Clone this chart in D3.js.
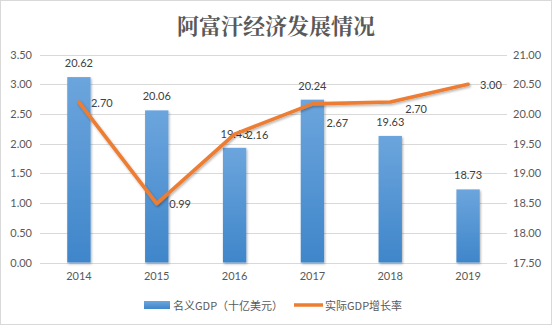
<!DOCTYPE html>
<html><head><meta charset="utf-8">
<script src="https://cdn.jsdelivr.net/npm/d3@7"></script>
<style>body{margin:0;background:#fff}svg{display:block}</style>
</head><body>
<script>
const years = ["2014","2015","2016","2017","2018","2019"];
const gdp = [20.62, 20.06, 19.43, 20.24, 19.63, 18.73];
const growth = [2.70, 0.99, 2.16, 2.67, 2.70, 3.00];
const leftTicks = [0, 0.5, 1, 1.5, 2, 2.5, 3, 3.5];
const rightTicks = [17.5, 18, 18.5, 19, 19.5, 20, 20.5, 21];
const titleText = "阿富汗经济发展情况";
const legendLabels = ["名义GDP（十亿美元）", "实际GDP增长率"];

const W = 552, H = 326;
const numFont = "Lato, 'Liberation Sans', sans-serif";
const cjkFont = "'Noto Sans CJK SC', sans-serif";
// manual nudges of the growth labels (as in the source chart)
const growthLabelNudge = [[12, 0], [12.5, 0], [12, 0], [14, 19], [15, 6], [12, 0]];

const svg = d3.select("body").append("svg").attr("width", W).attr("height", H);
const defs = svg.append("defs");
const grad = defs.append("linearGradient").attr("id", "barGrad").attr("x1", 0).attr("y1", 0).attr("x2", 0).attr("y2", 1);
grad.append("stop").attr("offset", "0%").attr("stop-color", "#6CA5DD");
grad.append("stop").attr("offset", "100%").attr("stop-color", "#3F86CA");
const sh = defs.append("filter").attr("id", "shadow").attr("x", "-20%").attr("y", "-20%").attr("width", "140%").attr("height", "140%");
sh.append("feDropShadow").attr("dx", 1).attr("dy", 1.5).attr("stdDeviation", 1.2).attr("flood-color", "#000").attr("flood-opacity", 0.3);

svg.append("rect").attr("x", 0.5).attr("y", 0.5).attr("width", W - 1).attr("height", 324)
  .attr("fill", "#fff").attr("stroke", "#d9d9d9");

const m = {l: 40, r: 507, t: 54.5, b: 262.5};
const x = d3.scaleBand().domain(years).range([m.l, m.r]);
const yL = d3.scaleLinear().domain([0, 3.5]).range([m.b, m.t]);
const yR = d3.scaleLinear().domain([17.5, 21]).range([m.b, m.t]);
const cx = d => x(d) + x.bandwidth() / 2;
const bw = x.bandwidth() * 0.3;

// title
svg.append("text").attr("x", 276).attr("y", 24).attr("text-anchor", "middle")
  .attr("dominant-baseline", "central").attr("font-family", "'Noto Serif CJK SC', " + cjkFont)
  .attr("font-size", 22).attr("font-weight", "bold").attr("fill", "#595959").text(titleText);

// gridlines
svg.append("g").selectAll("line").data(leftTicks).join("line")
  .attr("x1", m.l).attr("x2", m.r)
  .attr("y1", d => Math.round(yL(d)) + 0.5).attr("y2", d => Math.round(yL(d)) + 0.5)
  .attr("stroke", "#d9d9d9").attr("stroke-width", 1);

// axes
const axL = svg.append("g").attr("transform", `translate(${m.l},0)`)
  .call(d3.axisLeft(yL).tickValues(leftTicks).tickFormat(d3.format(".2f")).tickSize(0).tickPadding(8));
const axR = svg.append("g").attr("transform", `translate(${m.r},0)`)
  .call(d3.axisRight(yR).tickValues(rightTicks).tickFormat(d3.format(".2f")).tickSize(0).tickPadding(6));
const axB = svg.append("g").attr("transform", `translate(0,${m.b})`)
  .call(d3.axisBottom(x).tickSize(0).tickPadding(10));
[axL, axR, axB].forEach(a => {
  a.select(".domain").remove();
  a.selectAll("text").attr("font-family", numFont).attr("font-size", 11).attr("fill", "#595959");
});

// bars
svg.append("g").selectAll("rect").data(years).join("rect")
  .attr("x", (d) => cx(d) - bw / 2)
  .attr("width", bw)
  .attr("y", (d, i) => yR(gdp[i]))
  .attr("height", (d, i) => m.b - yR(gdp[i]))
  .attr("fill", "url(#barGrad)").attr("filter", "url(#shadow)");

// bar labels
svg.append("g").selectAll("text").data(years).join("text")
  .attr("x", d => cx(d)).attr("y", (d, i) => yR(gdp[i]) - 10)
  .attr("text-anchor", "middle").attr("font-family", numFont).attr("font-size", 11)
  .attr("fill", "#404040").text((d, i) => gdp[i].toFixed(2));

// line
const line = d3.line().x(d => cx(d)).y((d, i) => yL(growth[i]));
svg.append("path").datum(years).attr("d", line).attr("fill", "none")
  .attr("stroke", "#ED7D31").attr("stroke-width", 3.6)
  .attr("stroke-linejoin", "round").attr("stroke-linecap", "round").attr("filter", "url(#shadow)");

// line labels
svg.append("g").selectAll("text").data(years).join("text")
  .attr("x", (d, i) => cx(d) + growthLabelNudge[i][0])
  .attr("y", (d, i) => yL(growth[i]) + growthLabelNudge[i][1])
  .attr("dominant-baseline", "central").attr("font-family", numFont).attr("font-size", 11)
  .attr("fill", "#404040").text((d, i) => growth[i].toFixed(2));

// legend
const lg = svg.append("g");
lg.append("rect").attr("x", 144).attr("y", 301).attr("width", 26).attr("height", 8).attr("fill", "url(#barGrad)");
lg.append("text").attr("x", 173).attr("y", 305).attr("dominant-baseline", "central")
  .attr("font-family", cjkFont).attr("font-size", 11).attr("fill", "#595959").text(legendLabels[0]);
lg.append("line").attr("x1", 294).attr("x2", 323).attr("y1", 305).attr("y2", 305)
  .attr("stroke", "#ED7D31").attr("stroke-width", 3.5);
lg.append("text").attr("x", 325).attr("y", 305).attr("dominant-baseline", "central")
  .attr("font-family", cjkFont).attr("font-size", 11).attr("fill", "#595959").text(legendLabels[1]);
</script>
</body></html>
